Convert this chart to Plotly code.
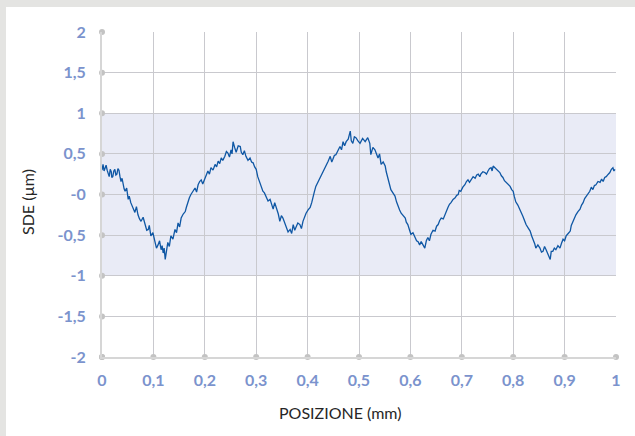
import plotly.graph_objects as go

# measured SDE profile (position in mm, deviation in µm)
pos_mm = [0.000, 0.001, 0.002, 0.004, 0.006, 0.008, 0.010, 0.012, 0.014, 0.016,
          0.018, 0.019, 0.021, 0.023, 0.025, 0.027, 0.029, 0.031, 0.033, 0.035,
          0.037, 0.039, 0.041, 0.043, 0.045, 0.048, 0.051, 0.053, 0.056, 0.060,
          0.064, 0.067, 0.070, 0.073, 0.076, 0.080, 0.084, 0.087, 0.090, 0.092,
          0.095, 0.099, 0.103, 0.106, 0.109, 0.112, 0.115, 0.117, 0.119, 0.121,
          0.123, 0.125, 0.128, 0.131, 0.134, 0.138, 0.142, 0.145, 0.148, 0.151,
          0.154, 0.158, 0.162, 0.164, 0.167, 0.170, 0.173, 0.177, 0.181, 0.184,
          0.187, 0.190, 0.193, 0.196, 0.200, 0.203, 0.206, 0.209, 0.212, 0.216,
          0.220, 0.223, 0.226, 0.229, 0.232, 0.235, 0.239, 0.242, 0.245, 0.248,
          0.251, 0.253, 0.255, 0.258, 0.261, 0.265, 0.269, 0.271, 0.274, 0.277,
          0.280, 0.284, 0.288, 0.291, 0.294, 0.297, 0.300, 0.303, 0.307, 0.310,
          0.313, 0.316, 0.319, 0.323, 0.327, 0.330, 0.333, 0.336, 0.339, 0.343,
          0.346, 0.349, 0.352, 0.355, 0.358, 0.362, 0.366, 0.369, 0.372, 0.375,
          0.377, 0.381, 0.385, 0.388, 0.391, 0.394, 0.397, 0.401, 0.405, 0.408,
          0.411, 0.413, 0.416, 0.420, 0.424, 0.427, 0.430, 0.433, 0.436, 0.440,
          0.444, 0.447, 0.449, 0.452, 0.455, 0.459, 0.463, 0.466, 0.469, 0.472,
          0.475, 0.479, 0.483, 0.485, 0.488, 0.491, 0.494, 0.498, 0.502, 0.507,
          0.512, 0.517, 0.521, 0.523, 0.527, 0.531, 0.534, 0.537, 0.540, 0.543,
          0.547, 0.551, 0.553, 0.556, 0.559, 0.562, 0.566, 0.570, 0.573, 0.576,
          0.579, 0.582, 0.586, 0.590, 0.592, 0.595, 0.598, 0.601, 0.605, 0.609,
          0.612, 0.615, 0.618, 0.621, 0.624, 0.628, 0.631, 0.634, 0.637, 0.640,
          0.644, 0.648, 0.651, 0.654, 0.657, 0.660, 0.664, 0.667, 0.670, 0.673,
          0.676, 0.679, 0.683, 0.687, 0.690, 0.693, 0.695, 0.698, 0.702, 0.706,
          0.709, 0.712, 0.715, 0.718, 0.722, 0.726, 0.729, 0.732, 0.735, 0.737,
          0.741, 0.745, 0.748, 0.751, 0.754, 0.757, 0.759, 0.761, 0.764, 0.767,
          0.771, 0.774, 0.777, 0.780, 0.783, 0.786, 0.790, 0.794, 0.797, 0.800,
          0.802, 0.805, 0.809, 0.813, 0.816, 0.819, 0.822, 0.825, 0.829, 0.833,
          0.836, 0.839, 0.842, 0.844, 0.848, 0.852, 0.855, 0.858, 0.861, 0.864,
          0.868, 0.872, 0.874, 0.877, 0.880, 0.883, 0.887, 0.891, 0.894, 0.897,
          0.900, 0.903, 0.907, 0.911, 0.913, 0.916, 0.919, 0.922, 0.926, 0.930,
          0.933, 0.936, 0.939, 0.942, 0.946, 0.949, 0.952, 0.955, 0.958, 0.961,
          0.965, 0.969, 0.972, 0.975, 0.978, 0.981, 0.985, 0.988, 0.991, 0.994,
          0.996, 0.998]
sde_um = [0.30, 0.37, 0.37, 0.29, 0.33, 0.36, 0.30, 0.24, 0.22, 0.31,
          0.28, 0.21, 0.22, 0.29, 0.31, 0.24, 0.25, 0.32, 0.30, 0.22,
          0.16, 0.20, 0.12, 0.07, 0.04, 0.08, -0.06, -0.02, -0.10, -0.17,
          -0.22, -0.15, -0.25, -0.30, -0.33, -0.28, -0.37, -0.44, -0.43, -0.38,
          -0.51, -0.47, -0.58, -0.66, -0.62, -0.57, -0.68, -0.63, -0.72, -0.66,
          -0.80, -0.70, -0.59, -0.64, -0.51, -0.55, -0.43, -0.47, -0.35, -0.40,
          -0.29, -0.24, -0.21, -0.16, -0.09, -0.04, 0.00, 0.05, 0.08, 0.03,
          0.12, 0.16, 0.18, 0.13, 0.20, 0.26, 0.29, 0.25, 0.33, 0.30,
          0.37, 0.34, 0.41, 0.38, 0.45, 0.42, 0.47, 0.53, 0.51, 0.46,
          0.55, 0.50, 0.65, 0.58, 0.52, 0.60, 0.59, 0.52, 0.49, 0.54,
          0.47, 0.42, 0.45, 0.40, 0.39, 0.34, 0.31, 0.22, 0.15, 0.09,
          0.04, 0.02, -0.02, -0.08, -0.06, -0.12, -0.18, -0.10, -0.15, -0.24,
          -0.33, -0.26, -0.29, -0.35, -0.39, -0.46, -0.43, -0.48, -0.37, -0.44,
          -0.41, -0.35, -0.37, -0.42, -0.33, -0.28, -0.23, -0.19, -0.16, -0.10,
          -0.04, 0.03, 0.10, 0.15, 0.21, 0.25, 0.27, 0.31, 0.35, 0.41,
          0.47, 0.40, 0.43, 0.48, 0.49, 0.55, 0.59, 0.55, 0.65, 0.60,
          0.65, 0.68, 0.78, 0.66, 0.63, 0.71, 0.70, 0.66, 0.63, 0.69,
          0.65, 0.70, 0.63, 0.49, 0.58, 0.55, 0.50, 0.45, 0.50, 0.37,
          0.40, 0.35, 0.28, 0.21, 0.13, 0.06, 0.02, -0.02, -0.09, -0.15,
          -0.19, -0.23, -0.26, -0.29, -0.34, -0.37, -0.43, -0.49, -0.47, -0.53,
          -0.57, -0.58, -0.62, -0.58, -0.61, -0.66, -0.57, -0.53, -0.57, -0.49,
          -0.44, -0.45, -0.39, -0.37, -0.32, -0.29, -0.30, -0.25, -0.19, -0.16,
          -0.12, -0.10, -0.06, -0.04, -0.01, 0.00, 0.05, 0.04, 0.09, 0.12,
          0.16, 0.18, 0.15, 0.18, 0.22, 0.20, 0.24, 0.25, 0.22, 0.25,
          0.28, 0.27, 0.25, 0.29, 0.32, 0.33, 0.29, 0.35, 0.33, 0.31,
          0.29, 0.27, 0.23, 0.21, 0.17, 0.15, 0.12, 0.10, 0.06, 0.04,
          -0.02, -0.09, -0.13, -0.18, -0.22, -0.27, -0.32, -0.37, -0.41, -0.45,
          -0.51, -0.55, -0.61, -0.66, -0.62, -0.66, -0.71, -0.70, -0.64, -0.68,
          -0.73, -0.80, -0.70, -0.70, -0.66, -0.68, -0.63, -0.66, -0.60, -0.55,
          -0.57, -0.51, -0.48, -0.45, -0.38, -0.33, -0.29, -0.25, -0.21, -0.18,
          -0.13, -0.10, -0.05, -0.02, 0.02, 0.04, 0.09, 0.06, 0.11, 0.12,
          0.16, 0.15, 0.19, 0.16, 0.21, 0.22, 0.25, 0.27, 0.31, 0.33,
          0.29, 0.31]

x_ticks = [0, 0.1, 0.2, 0.3, 0.4, 0.5, 0.6, 0.7, 0.8, 0.9, 1]
x_tick_text = ["0", "0,1", "0,2", "0,3", "0,4", "0,5", "0,6", "0,7", "0,8", "0,9", "1"]
y_ticks = [-2, -1.5, -1, -0.5, 0, 0.5, 1, 1.5, 2]
y_tick_text = ["-2", "-1,5", "-1", "-0,5", "-0", "0,5", "1", "1,5", "2"]
band_low, band_high = -1, 1

W, H = 635, 436
L, R, T, B = 102, 19, 32, 79
pw, ph = W - L - R, H - T - B

def px_x(px):
    return (px - L) / pw

def px_y(py):
    return (H - B - py) / ph

FONT = "Lato, 'Open Sans', sans-serif"
tick_font = dict(family=FONT, size=16, color="#7b93cd", weight="bold")
grid = "#c9c9ce"

fig = go.Figure()

# tick dots along the axes
fig.add_trace(go.Scatter(x=[0] * len(y_ticks), y=y_ticks, mode="markers",
                         marker=dict(color="#c3c3c3", size=6), cliponaxis=False,
                         hoverinfo="skip", showlegend=False))
fig.add_trace(go.Scatter(x=x_ticks, y=[-2] * len(x_ticks), mode="markers",
                         marker=dict(color="#c3c3c3", size=6), cliponaxis=False,
                         hoverinfo="skip", showlegend=False))

fig.add_trace(go.Scatter(x=pos_mm, y=sde_um, mode="lines",
                         line=dict(color="#0f57a4", width=1.3),
                         showlegend=False))

fig.update_layout(
    width=W, height=H,
    margin=dict(l=L, r=R, t=T, b=B),
    paper_bgcolor="#e4e4e2", plot_bgcolor="white",
    font=dict(family=FONT),
    xaxis=dict(range=[0, 1], tickvals=x_ticks, ticktext=x_tick_text,
               showgrid=True, gridcolor=grid, gridwidth=1, zeroline=False,
               showline=True, linecolor="#d6d6d6", linewidth=2,
               ticks="outside", ticklen=8, tickcolor="rgba(0,0,0,0)",
               tickfont=tick_font),
    yaxis=dict(range=[-2, 2], tickvals=y_ticks, ticktext=y_tick_text,
               showgrid=True, gridcolor=grid, gridwidth=1, zeroline=False,
               showline=True, linecolor="#d6d6d6", linewidth=2,
               ticks="outside", ticklen=11, tickcolor="rgba(0,0,0,0)",
               tickfont=tick_font),
    shapes=[
        dict(type="rect", xref="paper", yref="paper", x0=px_x(6), x1=px_x(W + 10),
             y0=px_y(H + 10), y1=px_y(7), fillcolor="white", line=dict(width=0),
             layer="below"),
        dict(type="rect", xref="x", yref="y", x0=0, x1=1, y0=band_low, y1=band_high,
             fillcolor="#e9ebf6", line=dict(width=0), layer="below"),
    ],
    annotations=[
        dict(text="POSIZIONE (mm)", xref="paper", yref="paper",
             x=px_x(340), y=px_y(412), xanchor="center", yanchor="middle",
             showarrow=False, font=dict(family=FONT, size=16, color="#262626")),
        dict(text="SDE (µm)", xref="paper", yref="paper", textangle=-90,
             x=px_x(28), y=px_y(202), xanchor="center", yanchor="middle",
             showarrow=False, font=dict(family=FONT, size=16, color="#262626")),
    ],
)

fig.write_html("out.html", config={"displayModeBar": False},
               post_script="document.body.style.margin='0';")
